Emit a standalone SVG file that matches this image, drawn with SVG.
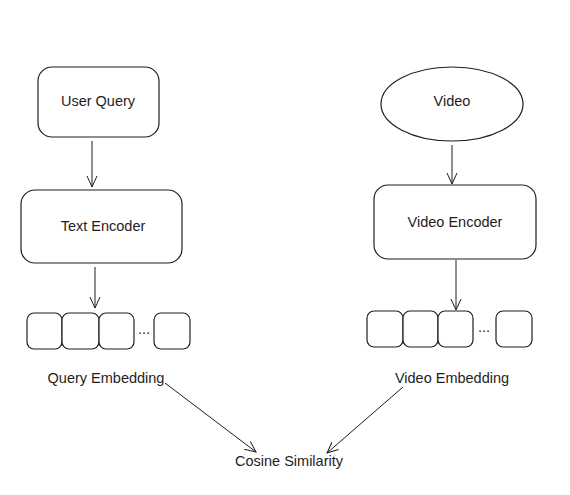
<svg xmlns="http://www.w3.org/2000/svg" width="570" height="495" viewBox="0 0 570 495">
<style>
.n{fill:#fff;stroke:#1e1e1e;stroke-width:1.2}
.t{font-family:"Liberation Sans",Arial,sans-serif;font-size:14.5px;fill:#1e1e1e;text-anchor:middle;dominant-baseline:central}
.c{fill:none;stroke:#1e1e1e;stroke-width:1}
</style>
<defs>
<marker id="ah" viewBox="0 0 12 12" refX="11" refY="6" markerWidth="12" markerHeight="12" markerUnits="userSpaceOnUse" orient="auto">
<path d="M0,1 L11,6 L0,11" fill="none" stroke="#1e1e1e" stroke-width="1"/>
</marker>
</defs>
<rect width="570" height="495" fill="#fff"/>
<g id="user-query"><rect class="n" x="38" y="67" width="121" height="70" rx="14"/><text class="t" x="98" y="101">User Query</text></g>
<g id="text-encoder"><rect class="n" x="21" y="190" width="161" height="73" rx="14"/><text class="t" x="103" y="226">Text Encoder</text></g>
<g id="video"><ellipse class="n" cx="452" cy="104" rx="71" ry="37"/><text class="t" x="452" y="101">Video</text></g>
<g id="video-encoder"><rect class="n" x="374" y="185" width="162" height="74" rx="14"/><text class="t" x="455" y="222">Video Encoder</text></g>
<g id="query-embedding">
<rect class="n" x="27" y="313" width="35" height="36" rx="7"/>
<rect class="n" x="62" y="313" width="37" height="36" rx="7"/>
<rect class="n" x="99" y="313" width="35" height="36" rx="7"/>
<text class="t" x="144" y="329">...</text>
<rect class="n" x="154" y="313" width="36" height="36" rx="7"/>
<text class="t" x="106" y="378">Query Embedding</text>
</g>
<g id="video-embedding">
<rect class="n" x="367" y="311" width="36" height="36" rx="7"/>
<rect class="n" x="403" y="311" width="35" height="36" rx="7"/>
<rect class="n" x="438" y="311" width="35" height="36" rx="7"/>
<text class="t" x="484" y="327">...</text>
<rect class="n" x="496" y="311" width="36" height="36" rx="7"/>
<text class="t" x="452" y="378">Video Embedding</text>
</g>
<g id="cosine-similarity"><text class="t" x="289" y="461">Cosine Similarity</text></g>
<g id="connectors">
<path class="c" d="M92,141 L92,187" marker-end="url(#ah)"/>
<path class="c" d="M95,267 L95,308" marker-end="url(#ah)"/>
<path class="c" d="M452,145 L452,184" marker-end="url(#ah)"/>
<path class="c" d="M456,260 L456,310" marker-end="url(#ah)"/>
<path class="c" d="M165,383 L256,452" marker-end="url(#ah)"/>
<path class="c" d="M403,387 L327,453" marker-end="url(#ah)"/>
</g>
</svg>
